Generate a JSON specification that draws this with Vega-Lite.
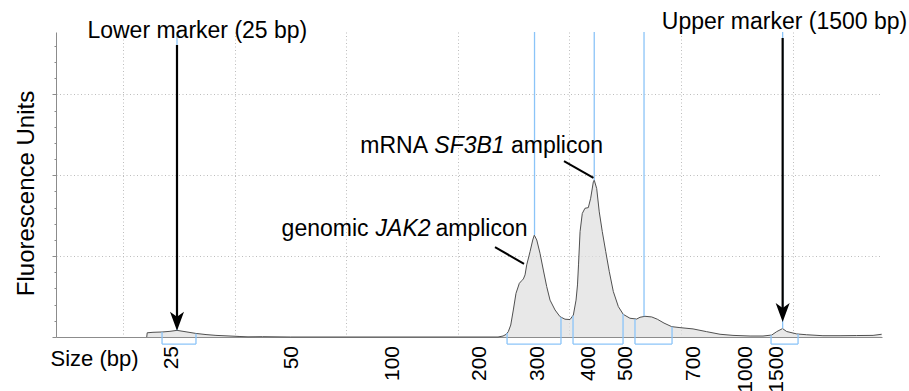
{
  "$schema": "https://vega.github.io/schema/vega-lite/v6.json",
  "width": 826,
  "height": 305,
  "autosize": {"type": "none"},
  "padding": {"left": 56, "top": 32, "right": 27, "bottom": 54},
  "background": "white",
  "config": {"view": {"stroke": null}, "font": "Liberation Sans"},
  "datasets": {
    "trace": [
      {"t": 32.13, "fu": 0}, {"t": 32.17, "fu": 1.3}, {"t": 32.69, "fu": 1.45}, {"t": 33.5, "fu": 1.55},
      {"t": 34.21, "fu": 1.75}, {"t": 34.84, "fu": 2.05}, {"t": 35.65, "fu": 1.6}, {"t": 36.54, "fu": 1.1},
      {"t": 37.44, "fu": 0.75}, {"t": 38.33, "fu": 0.5}, {"t": 39.59, "fu": 0.3}, {"t": 40.48, "fu": 0.15},
      {"t": 41.2, "fu": 0.05}, {"t": 42.5, "fu": 0.1}, {"t": 45.0, "fu": 0}, {"t": 63.6, "fu": 0},
      {"t": 64.05, "fu": 0.3}, {"t": 64.32, "fu": 0.8}, {"t": 64.52, "fu": 1.65}, {"t": 64.74, "fu": 3.7},
      {"t": 64.97, "fu": 8.35}, {"t": 65.21, "fu": 13.5}, {"t": 65.51, "fu": 16.6}, {"t": 65.72, "fu": 17.4},
      {"t": 65.87, "fu": 17.95}, {"t": 66.02, "fu": 19.2}, {"t": 66.17, "fu": 22.3}, {"t": 66.47, "fu": 26.4},
      {"t": 66.71, "fu": 30.0}, {"t": 66.85, "fu": 31.5}, {"t": 67.07, "fu": 30.0}, {"t": 67.36, "fu": 25.9},
      {"t": 67.66, "fu": 20.7}, {"t": 67.96, "fu": 15.6}, {"t": 68.26, "fu": 11.4}, {"t": 68.71, "fu": 8.35},
      {"t": 69.15, "fu": 6.3}, {"t": 69.6, "fu": 5.5}, {"t": 70.05, "fu": 5.4}, {"t": 70.35, "fu": 6.8},
      {"t": 70.59, "fu": 11.4}, {"t": 70.72, "fu": 16.1}, {"t": 70.81, "fu": 22.3}, {"t": 70.95, "fu": 32.6},
      {"t": 71.15, "fu": 38.2}, {"t": 71.39, "fu": 39.8}, {"t": 71.69, "fu": 40.0}, {"t": 71.9, "fu": 42.9},
      {"t": 72.14, "fu": 48.0}, {"t": 72.22, "fu": 48.5}, {"t": 72.44, "fu": 45.9}, {"t": 72.67, "fu": 38.7},
      {"t": 72.94, "fu": 32.6}, {"t": 73.25, "fu": 26.4}, {"t": 73.57, "fu": 20.2}, {"t": 73.93, "fu": 14.05},
      {"t": 74.38, "fu": 9.4}, {"t": 74.82, "fu": 7.0}, {"t": 75.42, "fu": 5.8}, {"t": 76.02, "fu": 5.55},
      {"t": 76.32, "fu": 6.1}, {"t": 76.77, "fu": 6.4}, {"t": 77.37, "fu": 6.2}, {"t": 77.87, "fu": 5.5},
      {"t": 78.47, "fu": 4.3}, {"t": 79.16, "fu": 3.2}, {"t": 79.9, "fu": 2.9}, {"t": 81.07, "fu": 2.5},
      {"t": 82.29, "fu": 1.65}, {"t": 83.49, "fu": 0.85}, {"t": 84.65, "fu": 0.5}, {"t": 86.18, "fu": 0.3},
      {"t": 87.34, "fu": 0.3}, {"t": 88.12, "fu": 0.6}, {"t": 88.56, "fu": 1.65}, {"t": 89.09, "fu": 2.6},
      {"t": 89.46, "fu": 1.7}, {"t": 90.36, "fu": 0.95}, {"t": 91.25, "fu": 0.7}, {"t": 92.71, "fu": 0.4},
      {"t": 94.24, "fu": 0.4}, {"t": 95.73, "fu": 0.45}, {"t": 97.2, "fu": 0.5}, {"t": 97.97, "fu": 0.85}
    ],
    "ladder": [
      {"bp": "25", "t": 34.37}, {"bp": "50", "t": 45.11}, {"bp": "100", "t": 54.21},
      {"bp": "200", "t": 62.0}, {"bp": "300", "t": 67.2}, {"bp": "400", "t": 71.72},
      {"bp": "500", "t": 75.08}, {"bp": "700", "t": 81.13}, {"bp": "1000", "t": 85.83},
      {"bp": "1500", "t": 88.56}
    ],
    "peaks": [
      {"peak": "Lower marker", "t": 34.84, "height": 2.05},
      {"peak": "JAK2", "t": 66.87, "height": 31.5},
      {"peak": "SF3B1", "t": 72.22, "height": 48.5},
      {"peak": "Shoulder", "t": 76.68, "height": 6.4},
      {"peak": "Upper marker", "t": 89.1, "height": 2.6}
    ],
    "windows": [
      {"peak": "Lower marker", "start": 33.5, "end": 36.54, "startLevel": 1.55, "endLevel": 1.1},
      {"peak": "JAK2", "start": 64.41, "end": 69.24, "startLevel": 1.2, "endLevel": 6.1},
      {"peak": "SF3B1", "start": 70.32, "end": 74.8, "startLevel": 6.6, "endLevel": 7.1},
      {"peak": "Shoulder", "start": 75.87, "end": 79.19, "startLevel": 5.6, "endLevel": 3.2},
      {"peak": "Upper marker", "start": 88.06, "end": 90.48, "startLevel": 0.55, "endLevel": 0.9}
    ],
    "arrows": [
      {"marker": "Lower marker", "t": 34.84, "top": 90.3, "shaftEnd": 6.2, "tip": 1.95},
      {"marker": "Upper marker", "t": 89.1, "top": 92.45, "shaftEnd": 8.97, "tip": 4.64}
    ],
    "leaders": [
      {"peak": "JAK2", "t1": 63.33, "v1": 27.8, "t2": 65.93, "v2": 22.6},
      {"peak": "SF3B1", "t1": 69.51, "v1": 54.4, "t2": 72.15, "v2": 49.2}
    ],
    "notes": [
      {"role": "marker", "text": "Lower marker (25 bp)", "t": 36.66, "v": 92.45},
      {"role": "marker", "text": "Upper marker (1500 bp)", "t": 89.27, "v": 95.08},
      {"role": "before", "text": "genomic", "t": 52.0, "v": 31.3},
      {"role": "gene", "text": "JAK2", "t": 55.09, "v": 31.3},
      {"role": "after", "text": "amplicon", "t": 58.0, "v": 31.3},
      {"role": "before", "text": "mRNA", "t": 57.33, "v": 56.8},
      {"role": "gene", "text": "SF3B1", "t": 61.04, "v": 56.8},
      {"role": "after", "text": "amplicon", "t": 64.76, "v": 56.8}
    ]
  },
  "layer": [
    {
      "data": {"name": "trace"},
      "mark": {"type": "area", "color": "#dedede", "line": {"color": "#505050", "strokeWidth": 1}},
      "encoding": {
        "x": {
          "field": "t", "type": "quantitative",
          "scale": {"domain": [24, 98], "nice": false, "zero": false},
          "axis": {
            "values": [30, 40, 50, 60, 70, 80, 90], "tickCount": 8,
            "grid": true, "gridColor": "#bdbdbd", "gridDash": [1, 2.5], "gridWidth": 1,
            "ticks": false, "labels": false,
            "domainColor": "#8c8c8c", "domainWidth": 1,
            "title": "Size (bp)", "titleFont": "Liberation Sans", "titleFontSize": 22,
            "titleFontWeight": "normal", "titleColor": "black",
            "titleAlign": "left", "titleBaseline": "alphabetic", "titleAngle": 0,
            "titleX": -6, "titleY": 28
          }
        },
        "y": {
          "field": "fu", "type": "quantitative",
          "scale": {"domain": [0, 94.3], "nice": false},
          "axis": {
            "values": [0, 5, 10, 15, 20, 25, 30, 35, 40, 45, 50, 55, 60, 65, 70, 75, 80, 85, 90],
            "tickCount": 19,
            "labels": false,
            "ticks": true, "tickColor": "#8c8c8c", "tickWidth": 1,
            "tickSize": {"expr": "datum.value % 25 === 0 ? 4 : 2"},
            "grid": true, "gridColor": "#bdbdbd", "gridDash": [1, 2.5], "gridWidth": 1,
            "gridOpacity": {"expr": "datum.value % 25 === 0 && datum.value > 0 ? 1 : 0"},
            "domainColor": "#8c8c8c", "domainWidth": 1,
            "title": "Fluorescence Units", "titleFont": "Liberation Sans", "titleFontSize": 24,
            "titleFontWeight": "normal", "titleColor": "black",
            "titleAlign": "center", "titleBaseline": "alphabetic", "titleAngle": -90,
            "titleX": -23, "titleY": 161
          }
        }
      }
    },
    {
      "data": {"name": "peaks"},
      "mark": {"type": "rule", "color": "#8bc4f8", "strokeWidth": 1.3},
      "encoding": {
        "x": {"field": "t", "type": "quantitative"},
        "y": {"field": "height", "type": "quantitative"},
        "y2": {"datum": 94.3}
      }
    },
    {
      "data": {"name": "windows"},
      "mark": {"type": "rule", "color": "#8bc4f8", "strokeWidth": 1.3},
      "encoding": {
        "x": {"field": "start", "type": "quantitative"},
        "y": {"field": "startLevel", "type": "quantitative"},
        "y2": {"datum": -2.2}
      }
    },
    {
      "data": {"name": "windows"},
      "mark": {"type": "rule", "color": "#8bc4f8", "strokeWidth": 1.3},
      "encoding": {
        "x": {"field": "end", "type": "quantitative"},
        "y": {"field": "endLevel", "type": "quantitative"},
        "y2": {"datum": -2.2}
      }
    },
    {
      "data": {"name": "windows"},
      "mark": {"type": "rule", "color": "#8bc4f8", "strokeWidth": 1.3},
      "encoding": {
        "x": {"field": "start", "type": "quantitative"},
        "x2": {"field": "end"},
        "y": {"datum": -2.2, "type": "quantitative"}
      }
    },
    {
      "data": {"name": "arrows"},
      "mark": {"type": "rule", "color": "black", "strokeWidth": 2.2},
      "encoding": {
        "x": {"field": "t", "type": "quantitative"},
        "y": {"field": "top", "type": "quantitative"},
        "y2": {"field": "shaftEnd"}
      }
    },
    {
      "data": {"name": "arrows"},
      "mark": {
        "type": "point", "shape": "M0,0 L-0.7,-1.9 L0,-1.4 L0.7,-1.9 Z",
        "size": 400, "filled": true, "color": "black", "opacity": 1, "strokeWidth": 0
      },
      "encoding": {
        "x": {"field": "t", "type": "quantitative"},
        "y": {"field": "tip", "type": "quantitative"}
      }
    },
    {
      "data": {"name": "leaders"},
      "mark": {"type": "rule", "color": "black", "strokeWidth": 2},
      "encoding": {
        "x": {"field": "t1", "type": "quantitative"},
        "y": {"field": "v1", "type": "quantitative"},
        "x2": {"field": "t2"},
        "y2": {"field": "v2"}
      }
    },
    {
      "data": {"name": "ladder"},
      "mark": {
        "type": "text", "angle": 270, "align": "right", "baseline": "middle",
        "font": "Liberation Sans", "fontSize": 21, "color": "black", "yOffset": 9
      },
      "encoding": {
        "x": {"field": "t", "type": "quantitative"},
        "y": {"datum": 0, "type": "quantitative"},
        "text": {"field": "bp"}
      }
    },
    {
      "data": {"name": "notes"},
      "transform": [{"filter": "datum.role === 'marker'"}],
      "mark": {"type": "text", "align": "center", "baseline": "alphabetic", "font": "Liberation Sans", "fontSize": 23, "color": "black"},
      "encoding": {
        "x": {"field": "t", "type": "quantitative"},
        "y": {"field": "v", "type": "quantitative"},
        "text": {"field": "text"}
      }
    },
    {
      "data": {"name": "notes"},
      "transform": [{"filter": "datum.role === 'before'"}],
      "mark": {"type": "text", "align": "right", "baseline": "alphabetic", "font": "Liberation Sans", "fontSize": 23, "color": "black"},
      "encoding": {
        "x": {"field": "t", "type": "quantitative"},
        "y": {"field": "v", "type": "quantitative"},
        "text": {"field": "text"}
      }
    },
    {
      "data": {"name": "notes"},
      "transform": [{"filter": "datum.role === 'gene'"}],
      "mark": {"type": "text", "align": "center", "baseline": "alphabetic", "font": "Liberation Sans", "fontStyle": "italic", "fontSize": 23, "color": "black"},
      "encoding": {
        "x": {"field": "t", "type": "quantitative"},
        "y": {"field": "v", "type": "quantitative"},
        "text": {"field": "text"}
      }
    },
    {
      "data": {"name": "notes"},
      "transform": [{"filter": "datum.role === 'after'"}],
      "mark": {"type": "text", "align": "left", "baseline": "alphabetic", "font": "Liberation Sans", "fontSize": 23, "color": "black"},
      "encoding": {
        "x": {"field": "t", "type": "quantitative"},
        "y": {"field": "v", "type": "quantitative"},
        "text": {"field": "text"}
      }
    }
  ]
}
